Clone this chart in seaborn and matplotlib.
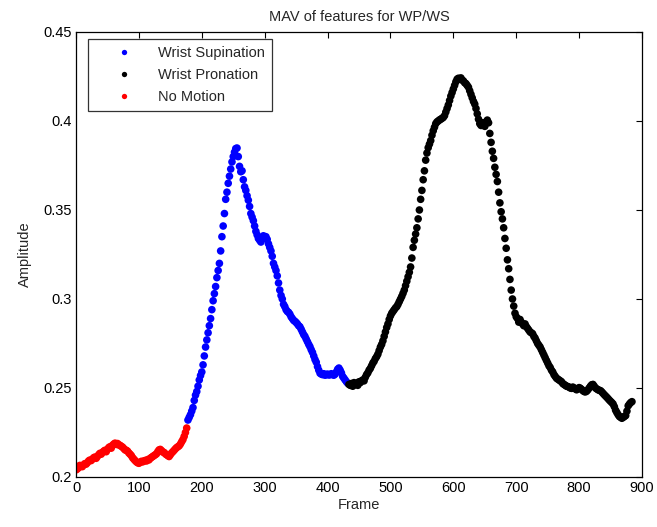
import numpy as np
import pandas as pd
import matplotlib
matplotlib.use("Agg")
import matplotlib.pyplot as plt
import seaborn as sns

# ---------------- data ----------------
classes = ["Wrist Supination", "Wrist Pronation", "No Motion"]
class_colors = ["#0000ff", "#000000", "#ff0000"]
x_ticks = [0, 100, 200, 300, 400, 500, 600, 700, 800, 900]
y_ticks = [0.2, 0.25, 0.3, 0.35, 0.4, 0.45]
y_tick_labels = ["0.2", "0.25", "0.3", "0.35", "0.4", "0.45"]

frame_step = 2
no_motion_start = 0
no_motion_mav = [
    .2040, .2045, .2052, .2065, .2060, .2058, .2068, .2075, .2072, .2080,
    .2090, .2095, .2092, .2100, .2108, .2112, .2105, .2115, .2125, .2133,
    .2128, .2138, .2145, .2150, .2142, .2155, .2165, .2170, .2162, .2178,
    .2185, .2190, .2183, .2188, .2180, .2178, .2172, .2168, .2160, .2152,
    .2150, .2145, .2135, .2128, .2120, .2108, .2100, .2092, .2085, .2080,
    .2077, .2082, .2088, .2085, .2090, .2093, .2090, .2098, .2096, .2105,
    .2110, .2115, .2120, .2125, .2130, .2142, .2152, .2155, .2148, .2140,
    .2138, .2130, .2125, .2120, .2115, .2125, .2135, .2142, .2150, .2158,
    .2165, .2170, .2175, .2185, .2198, .2210, .2228, .2250, .2275,
]

supination_start = 178
supination_mav = [
    .2320, .2335, .2350, .2370, .2390, .2430, .2460, .2480, .2510, .2545,
    .2570, .2590, .2630, .2680, .2730, .2770, .2810, .2850, .2890, .2940,
    .2990, .3030, .3070, .3120, .3160, .3200, .3270, .3350, .3410, .3480,
    .3560, .3600, .3650, .3690, .3730, .3770, .3800, .3825, .3845, .3848,
    .3800, .3745, .3715, .3720, .3670, .3630, .3610, .3580, .3555, .3520,
    .3480, .3460, .3440, .3410, .3380, .3360, .3340, .3330, .3320, .3345,
    .3355, .3340, .3350, .3335, .3310, .3290, .3270, .3240, .3200, .3180,
    .3160, .3130, .3090, .3050, .3020, .3000, .2970, .2957, .2940, .2930,
    .2925, .2915, .2900, .2890, .2880, .2875, .2868, .2860, .2850, .2844,
    .2830, .2815, .2800, .2790, .2775, .2760, .2745, .2732, .2715, .2700,
    .2680, .2660, .2645, .2620, .2600, .2583, .2578, .2575, .2580, .2572,
    .2575, .2578, .2573, .2575, .2580, .2575, .2572, .2578, .2590, .2605,
    .2612, .2600, .2585, .2565, .2555, .2545, .2535, .2527,
]

pronation_start = 434
pronation_mav = [
    .2520, .2515, .2525, .2510, .2530, .2520, .2527, .2515, .2535, .2530,
    .2540, .2545, .2540, .2560, .2575, .2585, .2600, .2610, .2625, .2640,
    .2650, .2665, .2676, .2690, .2710, .2730, .2745, .2765, .2790, .2815,
    .2840, .2860, .2885, .2905, .2920, .2930, .2940, .2950, .2957, .2970,
    .2985, .3000, .3015, .3032, .3050, .3075, .3100, .3125, .3150, .3180,
    .3230, .3290, .3330, .3365, .3400, .3450, .3500, .3560, .3610, .3670,
    .3720, .3780, .3820, .3850, .3870, .3890, .3920, .3945, .3965, .3985,
    .3995, .4000, .4006, .4010, .4015, .4020, .4030, .4050, .4070, .4090,
    .4115, .4140, .4160, .4180, .4200, .4220, .4235, .4240, .4235, .4242,
    .4230, .4225, .4215, .4210, .4200, .4190, .4170, .4150, .4130, .4110,
    .4095, .4070, .4040, .4010, .3985, .3975, .3990, .3980, .3970, .3995,
    .4005, .3990, .3930, .3880, .3830, .3790, .3740, .3700, .3660, .3600,
    .3540, .3490, .3450, .3400, .3340, .3285, .3220, .3170, .3110, .3050,
    .3000, .2960, .2920, .2900, .2890, .2870, .2885, .2870, .2860, .2850,
    .2860, .2845, .2835, .2825, .2815, .2810, .2805, .2790, .2780, .2765,
    .2750, .2740, .2730, .2715, .2700, .2685, .2670, .2655, .2640, .2625,
    .2615, .2600, .2590, .2575, .2565, .2555, .2550, .2545, .2540, .2535,
    .2525, .2520, .2515, .2510, .2508, .2505, .2500, .2498, .2505, .2500,
    .2495, .2490, .2497, .2502, .2498, .2492, .2485, .2480, .2478, .2482,
    .2490, .2500, .2510, .2518, .2520, .2510, .2500, .2495, .2490, .2487,
    .2485, .2478, .2470, .2462, .2455, .2448, .2440, .2432, .2425, .2418,
    .2410, .2395, .2375, .2362, .2350, .2340, .2335, .2330, .2335, .2340,
    .2345, .2370, .2400, .2410, .2418, .2423,
]


def segment(start, values, label):
    frames = start + frame_step * np.arange(len(values))
    return pd.DataFrame({"Frame": frames, "Amplitude": values, "cls": label})


df = pd.concat([
    segment(no_motion_start, no_motion_mav, "No Motion"),
    segment(supination_start, supination_mav, "Wrist Supination"),
    segment(pronation_start, pronation_mav, "Wrist Pronation"),
], ignore_index=True)

# ---------------- plot ----------------
sns.set_style("white")
plt.rcParams["font.family"] = ["Liberation Sans", "DejaVu Sans"]
plt.rcParams["font.size"] = 10

fig = plt.figure(figsize=(6.57, 5.27), dpi=100)
ax = fig.add_axes([0.1157, 0.0949, 0.8615, 0.8444])

sns.scatterplot(
    data=df, x="Frame", y="Amplitude", hue="cls",
    hue_order=classes, palette=dict(zip(classes, class_colors)),
    s=30, linewidth=0, edgecolor="none", alpha=1.0, ax=ax, legend=True,
)

ax.set_xlim(0, 900)
ax.set_ylim(0.2, 0.45)
ax.set_xticks(x_ticks)
ax.set_xticklabels([str(t) for t in x_ticks])
ax.set_yticks(y_ticks)
ax.set_yticklabels(y_tick_labels)
ax.tick_params(direction="in", length=4, width=0.8, top=True, right=True,
               labelsize=10.5, colors="black", pad=3)
for sp in ax.spines.values():
    sp.set_visible(True)
    sp.set_color("black")
    sp.set_linewidth(0.9)

ax.set_xlabel("Frame", fontsize=10.5, labelpad=2)
ax.set_ylabel("Amplitude", fontsize=10.5, labelpad=8)
ax.set_title("MAV of features for WP/WS", fontsize=10.5, pad=8)

handles, labels = ax.get_legend_handles_labels()
leg = ax.legend(handles, labels, loc="upper left", bbox_to_anchor=(0.021, 0.985),
                borderaxespad=0, frameon=True, fancybox=False, edgecolor="black",
                fontsize=10.5, handlelength=4.0, handletextpad=0.3,
                labelspacing=0.55, borderpad=0.5, markerscale=0.7)
leg.get_frame().set_linewidth(0.9)

fig.savefig("out.png", dpi=100)
